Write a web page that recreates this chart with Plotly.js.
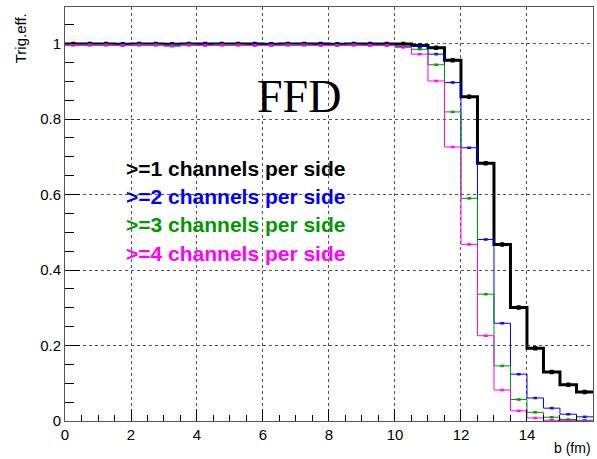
<!DOCTYPE html>
<html>
<head>
<meta charset="utf-8">
<script src="https://cdn.plot.ly/plotly-3.0.1.min.js"></script>
<style>html,body{margin:0;padding:0;background:#fff;}#chart{width:597px;height:459px;}</style>
</head>
<body>
<div id="chart"></div>
<script>
// Histogram bins: 32 bins of 0.5 fm from 0 to 16
var binLow = 0, binWidth = 0.5, nBins = 32;

var seriesNames = [">=1 channels per side", ">=2 channels per side", ">=3 channels per side", ">=4 channels per side"];

var eff1 = [0.999,0.999,0.999,0.998,0.999,0.999,0.998,0.999,0.999,0.999,0.999,0.999,0.998,0.999,0.999,0.999,0.998,0.999,0.999,0.999,0.999,0.995,0.989,0.956,0.859,0.683,0.468,0.301,0.193,0.130,0.096,0.077];
var eff2 = [0.998,0.998,0.998,0.997,0.998,0.998,0.997,0.998,0.998,0.998,0.998,0.997,0.997,0.998,0.998,0.997,0.997,0.998,0.998,0.997,0.993,0.993,0.972,0.897,0.724,0.481,0.259,0.124,0.061,0.034,0.018,0.011];
var eff3 = [0.997,0.997,0.997,0.996,0.997,0.997,0.996,0.997,0.996,0.997,0.997,0.996,0.996,0.997,0.997,0.996,0.996,0.997,0.996,0.996,0.993,0.985,0.944,0.819,0.590,0.336,0.146,0.057,0.023,0.010,0.004,0.002];
var eff4 = [0.996,0.996,0.996,0.995,0.996,0.996,0.993,0.996,0.995,0.996,0.996,0.995,0.995,0.996,0.996,0.995,0.995,0.996,0.995,0.995,0.990,0.972,0.901,0.726,0.468,0.226,0.082,0.027,0.008,0.002,0.001,0.000];

var colors = ["#000000", "#0000ff", "#009900", "#ff00ff"];
var widths = [3, 1, 1, 1];

var edges = [], centers = [];
for (var i = 0; i <= nBins; i++) edges.push(binLow + i * binWidth);
for (var j = 0; j < nBins; j++) centers.push(binLow + (j + 0.5) * binWidth);

var all = [eff1, eff2, eff3, eff4];
var traces = [];
all.forEach(function (vals, k) {
  traces.push({
    x: edges, y: vals.concat([vals[vals.length - 1]]),
    type: 'scatter', mode: 'lines', line: {shape: 'hv', color: colors[k], width: widths[k]},
    name: seriesNames[k], showlegend: false, hoverinfo: 'skip', cliponaxis: true
  });
  traces.push({
    x: centers, y: vals, type: 'scatter', mode: 'markers',
    marker: {size: 1, color: colors[k]},
    error_y: {type: 'constant', value: 0.002, color: colors[k], thickness: widths[k], width: 2},
    showlegend: false, hoverinfo: 'skip'
  });
});

var annots = [
  {text: 'FFD', x: 7.1, y: 0.86, xref: 'x', yref: 'y', showarrow: false,
   font: {family: 'Liberation Serif, serif', size: 46, color: '#000'}}
];
var legY = [0.668, 0.594, 0.522, 0.444];
seriesNames.forEach(function (n, k) {
  annots.push({text: '<b>' + n + '</b>', x: 1.78, y: legY[k], xref: 'x', yref: 'y', xanchor: 'left',
    showarrow: false, font: {family: 'Liberation Sans, Arial, sans-serif', size: 21, color: colors[k]}});
});
annots.push({text: 'Trig.eff.', xref: 'paper', yref: 'paper', x: -0.085, y: 0.99, xanchor: 'center', yanchor: 'top',
  textangle: -90, showarrow: false, font: {family: 'Liberation Sans, Arial, sans-serif', size: 15, color: '#000'}});
annots.push({text: 'b (fm)', xref: 'paper', yref: 'paper', x: 0.998, y: -0.066, xanchor: 'right', yanchor: 'middle',
  borderpad: 0, showarrow: false, font: {family: 'Liberation Sans, Arial, sans-serif', size: 14, color: '#000'}});

var layout = {
  width: 597, height: 459,
  margin: {l: 65, r: 4, t: 7, b: 38},
  paper_bgcolor: '#fff', plot_bgcolor: '#fff',
  showlegend: false,
  font: {family: 'Liberation Sans, Arial, sans-serif', size: 15, color: '#000'},
  xaxis: {
    range: [0, 16.001], dtick: 2, tick0: 0, ticks: 'inside', ticklen: 12, tickcolor: '#000',
    showline: true, linecolor: '#555', linewidth: 1, mirror: true,
    showgrid: true, gridcolor: '#555', griddash: 'dot', gridwidth: 1, zeroline: false,
    minor: {dtick: 0.5, ticks: 'inside', ticklen: 6, tickcolor: '#000', showgrid: false},
    tickfont: {size: 15}
  },
  yaxis: {
    range: [0, 1.097], dtick: 0.2, tick0: 0, ticks: 'inside', ticklen: 15, tickcolor: '#000',
    showline: true, linecolor: '#555', linewidth: 1, mirror: true,
    showgrid: true, gridcolor: '#555', griddash: 'dot', gridwidth: 1, zeroline: false,
    minor: {dtick: 0.05, ticks: 'inside', ticklen: 9, tickcolor: '#000', showgrid: false},
    tickfont: {size: 15}
  },
  annotations: annots
};

Plotly.newPlot('chart', traces, layout, {staticPlot: true, displayModeBar: false});
</script>
</body>
</html>
